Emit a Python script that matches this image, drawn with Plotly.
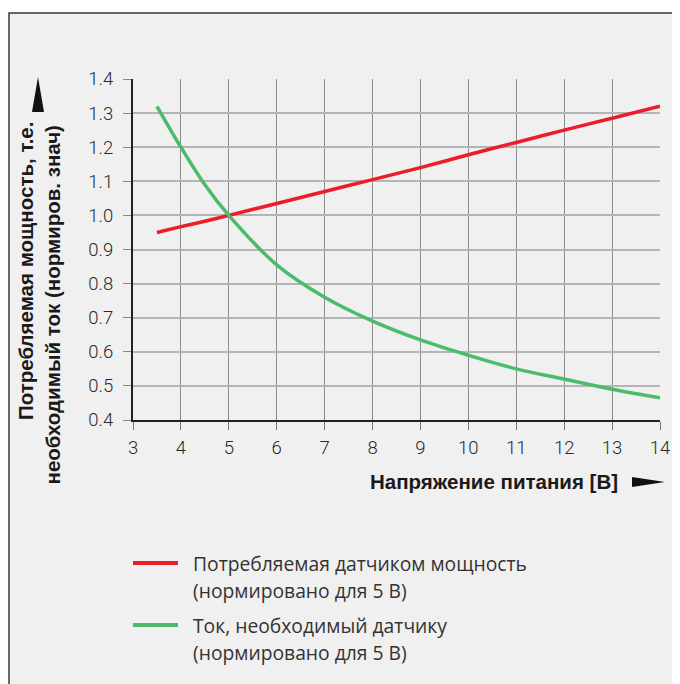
import plotly.graph_objects as go

# ---- data ----
voltage = [3.5, 4, 4.5, 5, 6, 7, 8, 9, 10, 11, 12, 13, 14]
power_norm = [0.95, 0.967, 0.983, 1.0, 1.035, 1.07, 1.105, 1.14, 1.178, 1.214, 1.25, 1.285, 1.32]
current_norm = [1.32, 1.20, 1.09, 1.0, 0.855, 0.76, 0.69, 0.635, 0.59, 0.55, 0.52, 0.49, 0.465]

x_ticks = [3, 4, 5, 6, 7, 8, 9, 10, 11, 12, 13, 14]
y_ticks = [0.4, 0.5, 0.6, 0.7, 0.8, 0.9, 1.0, 1.1, 1.2, 1.3, 1.4]
y_tick_labels = ["0.4", "0.5", "0.6", "0.7", "0.8", "0.9", "1.0", "1.1", "1.2", "1.3", "1.4"]

series_lines = [["Потребляемая датчиком мощность", "(нормировано для 5 В)"],
                ["Ток, необходимый датчику", "(нормировано для 5 В)"]]
series_colors = ["#ec1c2a", "#4cbb6c"]

x_title = "Напряжение питания [В]"
y_title_lines = ["Потребляемая мощность, т.е.", "необходимый ток (нормиров. знач)"]

# page has an 8px body margin: figure coords = screen coords - 8
OFF = 8
W, H = 672, 676
L, R, T, B = 125, 20, 71, 264
pw, ph = W - L - R, H - T - B


def px(sx):
    return (sx - OFF - L) / pw


def py(sy):
    return (H - B - (sy - OFF)) / ph


fig = go.Figure()
fig.add_trace(go.Scatter(x=voltage, y=power_norm, mode="lines",
                         line=dict(color=series_colors[0], width=3.5, shape="spline", smoothing=0.6),
                         showlegend=False, name="power"))
fig.add_trace(go.Scatter(x=voltage, y=current_norm, mode="lines",
                         line=dict(color=series_colors[1], width=3.5, shape="spline"),
                         showlegend=False, name="current"))

shapes = []
# frame
shapes.append(dict(type="rect", xref="paper", yref="paper", layer="below",
                   x0=px(9), x1=px(720), y0=py(720), y1=py(13),
                   fillcolor="#f0f0f0", line=dict(color="#3a3a3a", width=1.5)))
# y arrow
shapes.append(dict(type="path", xref="paper", yref="paper",
                   path=f"M {px(32)} {py(112)} L {px(38)} {py(77)} L {px(44)} {py(112)} Z",
                   fillcolor="#111111", line=dict(width=0)))
# x arrow
shapes.append(dict(type="path", xref="paper", yref="paper",
                   path=f"M {px(632)} {py(477)} L {px(665)} {py(482)} L {px(632)} {py(487)} Z",
                   fillcolor="#111111", line=dict(width=0)))

annotations = []
title_font = dict(family="Liberation Sans", size=20.5, color="#1a1a1a", weight="bold")
for line, sx, sy in zip(y_title_lines, [25, 52], [120, 124]):
    annotations.append(dict(text=line, xref="paper", yref="paper", x=px(sx), y=py(sy),
                            textangle=-90, showarrow=False, xanchor="center", yanchor="top",
                            font=title_font))
annotations.append(dict(text=x_title, xref="paper", yref="paper", x=px(620), y=py(481),
                        xanchor="right", yanchor="middle", showarrow=False,
                        font=title_font))

# custom legend
leg_y = [563, 625]
for lines, col, yy in zip(series_lines, series_colors, leg_y):
    shapes.append(dict(type="line", xref="paper", yref="paper",
                       x0=px(133), x1=px(178), y0=py(yy), y1=py(yy),
                       line=dict(color=col, width=4)))
    for i, t in enumerate(lines):
        annotations.append(dict(text=t, xref="paper", yref="paper", x=px(191), y=py(yy + i * 27.5),
                                xanchor="left", yanchor="middle", align="left", showarrow=False,
                                font=dict(family="Open Sans", size=19.3, color="#333333")))

tick_font = dict(family="Roboto", size=18.5, color="#2a2a2a", weight=300)
fig.update_layout(
    width=W, height=H,
    margin=dict(l=L, r=R, t=T, b=B),
    paper_bgcolor="white",
    plot_bgcolor="rgba(0,0,0,0)",
    shapes=shapes,
    annotations=annotations,
    showlegend=False,
    xaxis=dict(range=[3, 14], tickvals=x_ticks, ticks="outside", ticklen=8, tickcolor="#777",
               showgrid=True, gridcolor="#8c8c8c", gridwidth=1, automargin=False,
               showline=True, linecolor="#222", linewidth=2, zeroline=False,
               tickfont=tick_font, ticklabelstandoff=2, ticklabeloverflow="allow"),
    yaxis=dict(range=[0.4, 1.4], tickvals=y_ticks, ticktext=y_tick_labels, ticks="outside",
               ticklen=8, tickcolor="#888", automargin=False,
               showgrid=True, gridcolor="#b4b4b4", gridwidth=1.6,
               showline=True, linecolor="#222", linewidth=2, zeroline=False,
               tickfont=tick_font, ticklabelstandoff=6),
)

fig.write_html("out.html")
